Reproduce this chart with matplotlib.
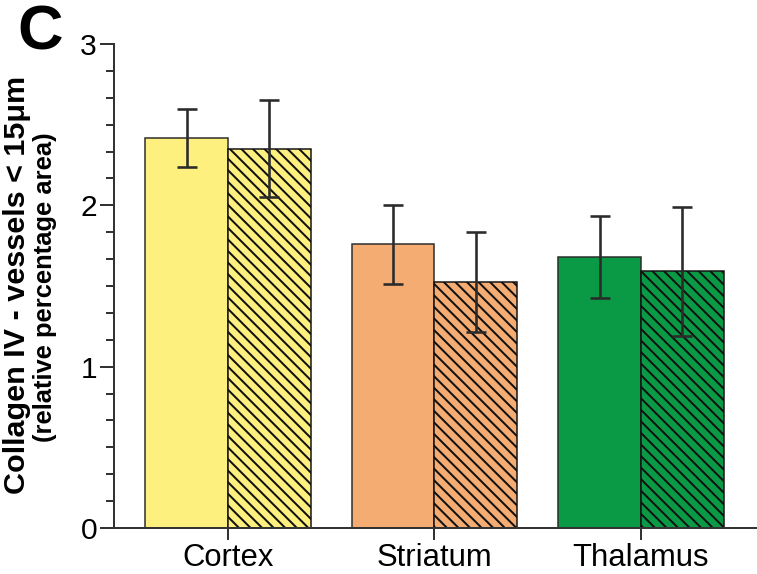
import matplotlib
matplotlib.use("Agg")
import matplotlib.pyplot as plt
from matplotlib.ticker import MultipleLocator

# Data
regions = ["Cortex", "Striatum", "Thalamus"]
solid_means = [2.42, 1.76, 1.68]
solid_err = [0.18, 0.245, 0.255]
hatched_means = [2.35, 1.525, 1.59]
hatched_err = [0.30, 0.31, 0.40]
colors = ["#FEF07E", "#F4AC72", "#0A9A46"]
y_ticks = [0, 1, 2, 3]

DPI = 104
W, H = 757, 574


def pt(px):
    """Convert a size in pixels to points at the figure dpi."""
    return px * 72.0 / DPI


plt.rcParams["font.family"] = ["Liberation Sans", "DejaVu Sans"]
plt.rcParams["hatch.linewidth"] = pt(2.0)

fig = plt.figure(figsize=(W / DPI, H / DPI), dpi=DPI)
ax = fig.add_axes([114 / W, 1 - 528 / H, 1 - 114 / W, (528 - 44) / H])

x = list(range(len(regions)))
w = 0.4
ax.bar([i - w / 2 for i in x], solid_means, width=w, color=colors,
       edgecolor="#2a2a2a", linewidth=pt(1.5), zorder=2)
ax.bar([i + w / 2 for i in x], hatched_means, width=w, color=colors,
       edgecolor="#111111", linewidth=pt(1.5), hatch="\\\\\\", zorder=2)

err_style = dict(fmt="none", ecolor="#2b2b2b", elinewidth=pt(2.6),
                 capsize=pt(10), capthick=pt(2.6), zorder=3)
ax.errorbar([i - w / 2 for i in x], solid_means, yerr=solid_err, **err_style)
ax.errorbar([i + w / 2 for i in x], hatched_means, yerr=hatched_err, **err_style)

ax.set_xlim(-0.552, 2.562)
ax.set_ylim(0, 3)
ax.set_yticks(y_ticks)
ax.yaxis.set_minor_locator(MultipleLocator(1 / 6))
ax.set_xticks(x)
ax.set_xticklabels(regions, fontsize=pt(31))
ax.tick_params(axis="y", which="major", labelsize=pt(30), length=pt(14),
               width=pt(2), color="#333333", pad=pt(3))
ax.tick_params(axis="y", which="minor", length=pt(8), width=pt(2), color="#333333")
ax.tick_params(axis="x", which="major", length=pt(12), width=pt(2),
               color="#333333", pad=pt(3))

for side in ["top", "right"]:
    ax.spines[side].set_visible(False)
for side in ["left", "bottom"]:
    ax.spines[side].set_linewidth(pt(2))
    ax.spines[side].set_color("#333333")

fig.text(25 / W, 1 - 285 / H, "Collagen IV - vessels < 15μm", rotation=90,
         rotation_mode="anchor", fontsize=pt(30.5), fontweight="bold",
         ha="center", va="baseline")
fig.text(52 / W, 1 - 287 / H, "(relative percentage area)", rotation=90,
         rotation_mode="anchor", fontsize=pt(25.5), fontweight="bold",
         ha="center", va="baseline")
fig.text(40 / W, 1 - 33 / H, "C", fontsize=pt(63), fontweight="bold",
         ha="center", va="center")

fig.savefig("out.png", dpi=DPI)
